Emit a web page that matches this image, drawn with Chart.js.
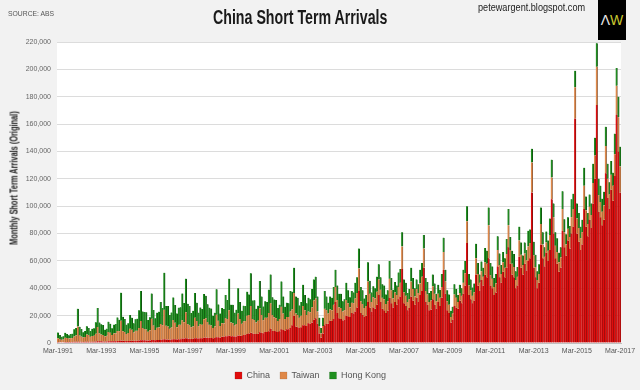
<!DOCTYPE html>
<html>
<head>
<meta charset="utf-8">
<script src="https://cdn.jsdelivr.net/npm/chart.js@4"></script>
<style>
  body { margin: 0; background: #f2f2f2; }
  #wrap { position: relative; width: 640px; height: 390px; font-family: 'Liberation Sans', Arial, sans-serif; }
  .txt { position: absolute; white-space: nowrap; transform-origin: 0 0; }
</style>
</head>
<body>
<div id="wrap">
  <canvas id="grafico" width="640" height="390"></canvas>
  <div class="txt" style="left:8px;top:9px;font-size:8px;color:#555;transform:scaleX(0.85);">SOURCE: ABS</div>
  <div class="txt" style="left:213px;top:6px;font-size:20px;font-weight:bold;color:#1a1a1a;transform:scaleX(0.71);">China Short Term Arrivals</div>
  <div class="txt" style="left:478px;top:1px;font-size:11px;color:#222;transform:scaleX(0.83);">petewargent.blogspot.com</div>
  <div class="txt" style="left:598px;top:0;width:28px;height:40px;background:#000;text-align:center;line-height:40px;font-size:14px;"><span style="color:#e8e8e8">Λ</span><span style="color:#c8c830">W</span></div>
  <div class="txt" style="left:14px;top:178px;transform-origin:50% 50%;transform:translate(-50%,-50%) rotate(-90deg) scaleX(0.74);font-size:10px;font-weight:bold;color:#222;">Monthly Short Term Arrivals (Original)</div>
</div>
<script>
// Eixo: meses de Mar-1991 a Mar-2017, rótulo a cada 24 meses
const tickLabels = ['Mar-1991', 'Mar-1993', 'Mar-1995', 'Mar-1997', 'Mar-1999', 'Mar-2001', 'Mar-2003',
    'Mar-2005', 'Mar-2007', 'Mar-2009', 'Mar-2011', 'Mar-2013', 'Mar-2015', 'Mar-2017'];
const seriesNames = ['China', 'Taiwan', 'Hong Kong'];

// China (uma linha por ano)
const china = [
    700, 600, 600, 600, 700, 700, 700, 800, 800, 900,
    900, 1000, 900, 900, 800, 900, 1000, 1000, 900, 1000, 1000, 1100,
    1200, 1200, 1200, 1100, 1000, 1100, 1300, 1300, 1200, 1300, 1300, 1500,
    1500, 1800, 1600, 1500, 1400, 1500, 1700, 1700, 1600, 1700, 1700, 1900,
    2000, 2000, 2000, 1900, 1800, 1900, 2200, 2200, 2000, 2200, 2200, 2400,
    2500, 2800, 2600, 2500, 2400, 2500, 2800, 2800, 2600, 2800, 2800, 3200,
    3200, 3500, 3200, 3100, 3000, 3100, 3500, 3500, 3200, 3400, 3400, 3800,
    4000, 3800, 3800, 3700, 3500, 3600, 4200, 4200, 4000, 4500, 4500, 5000,
    5000, 5500, 5000, 4900, 4700, 4800, 5500, 5500, 5200, 5800, 6000, 6500,
    7000, 7500, 7000, 6800, 6500, 6800, 7800, 7500, 7200, 8000, 8000, 8500,
    10500, 9000, 8800, 8500, 8000, 8500, 10000, 9500, 9000, 10000, 10000, 11000,
    13000, 20000, 12000, 11500, 11000, 11500, 13000, 13000, 12500, 14500, 14000, 15000,
    17000, 18000, 14000, 7000, 4000, 7000, 13000, 14000, 14000, 16500, 16000, 17500,
    30000, 22000, 18000, 17500, 16500, 17000, 20000, 19500, 19000, 22000, 21500, 23000,
    26000, 38000, 22000, 20500, 19000, 20000, 30000, 26000, 23000, 26000, 25000, 28000,
    35000, 30000, 25000, 24000, 22000, 23500, 33000, 29000, 26000, 30000, 28000, 32000,
    34000, 54000, 29000, 27000, 24000, 25500, 34000, 31000, 28000, 33000, 30000, 35000,
    38000, 55000, 30000, 28000, 24000, 24500, 32000, 28000, 25000, 30000, 27000, 33000,
    53500, 36000, 24000, 22000, 15000, 17000, 27000, 26000, 25000, 31000, 29000, 36000,
    42000, 73000, 35000, 32000, 29000, 31000, 50000, 42000, 38000, 46000, 42000, 50000,
    48000, 62000, 42000, 40000, 35000, 37000, 56000, 48000, 44000, 52000, 48000, 55000,
    70000, 58000, 50000, 48000, 40000, 42000, 63000, 55000, 50000, 58000, 53000, 60000,
    62000, 110000, 55000, 48000, 40000, 44000, 72000, 62000, 56000, 66000, 60000, 68000,
    105000, 80000, 62000, 58000, 52000, 55000, 82000, 70000, 64000, 75000, 69000, 80000,
    85000, 164000, 80000, 74000, 68000, 72000, 98000, 85000, 78000, 90000, 84000, 102000,
    120000, 174000, 96000, 92000, 86000, 90000, 124000, 106000, 98000, 112000, 104000, 122000,
    167000, 140000, 110000
];

// Taiwan
const taiwan = [
    2800, 2300, 1800, 1900, 3200, 3000, 2500, 2700, 2800, 3800,
    4500, 11000, 4500, 3800, 3200, 3500, 5200, 4800, 3600, 4200, 4300, 5600,
    10500, 6000, 5000, 4800, 3800, 4200, 6800, 6200, 4600, 5600, 5800, 7200,
    7000, 14500, 7000, 6500, 5200, 5800, 8800, 8000, 6000, 7200, 7300, 9000,
    14000, 9000, 8200, 8000, 6500, 7500, 15500, 10500, 7500, 9000, 9200, 11500,
    10500, 21500, 10000, 9500, 8000, 8800, 14000, 12000, 9000, 10500, 10500, 13500,
    12000, 19000, 10500, 10000, 8500, 9000, 15000, 12500, 9000, 10500, 10000, 13500,
    14000, 11500, 9500, 9000, 7500, 8500, 16500, 12000, 8500, 10000, 9800, 13000,
    12500, 18500, 10000, 9500, 8000, 9000, 16000, 12000, 8800, 10000, 10000, 13500,
    13500, 19500, 10500, 10000, 8500, 9500, 17500, 13000, 9500, 10500, 10500, 13500,
    18500, 11500, 10000, 9500, 8000, 9000, 16500, 12000, 8500, 9000, 9000, 12000,
    11500, 16500, 9500, 9000, 7500, 8500, 14000, 11000, 8000, 8500, 8500, 11000,
    14000, 14500, 9000, 5000, 3000, 5500, 12000, 10000, 7500, 8000, 8000, 10500,
    11000, 9500, 8000, 8000, 6500, 7000, 11500, 9500, 7000, 7500, 7500, 9500,
    10500, 16500, 8500, 8000, 6500, 7000, 15000, 10000, 7000, 7500, 7500, 9500,
    11500, 9000, 8000, 8000, 6500, 7000, 14000, 9500, 6500, 7000, 7000, 9000,
    10000, 16500, 8000, 7500, 6000, 6500, 11000, 8500, 6000, 6500, 6500, 8500,
    10500, 14000, 8000, 7500, 6000, 6500, 9500, 8000, 5500, 6000, 6000, 8000,
    13000, 9000, 6500, 6000, 4000, 4500, 8500, 7000, 5000, 5500, 5500, 8000,
    9000, 16000, 7000, 6500, 5500, 6000, 12000, 8500, 6000, 6500, 6500, 9000,
    10000, 24000, 7500, 7000, 6000, 6500, 12000, 9000, 6500, 7000, 7000, 10000,
    16000, 10000, 8000, 7500, 6000, 6500, 12000, 9500, 7000, 7500, 7500, 10500,
    11000, 22000, 9000, 7500, 6000, 6500, 15000, 10000, 7000, 7500, 7500, 11000,
    16000, 12000, 9000, 8500, 7000, 7500, 16000, 11000, 8000, 8500, 8500, 12000,
    13000, 23000, 11000, 10000, 8500, 9000, 17000, 12000, 9000, 9500, 9500, 15000,
    17000, 28000, 12000, 11000, 10000, 10500, 20000, 14000, 10500, 11000, 11000, 16000,
    21000, 25000, 19000
];

// Hong Kong
const hongKong = [
    4200, 3000, 2100, 2400, 3600, 2900, 2400, 3000, 3200, 5400,
    5500, 13000, 6500, 5500, 3800, 4300, 6000, 5200, 4200, 5200, 5500, 8500,
    13800, 7800, 7500, 7200, 4800, 5200, 7500, 6500, 5000, 6500, 6800, 10000,
    8500, 20500, 10500, 9500, 6800, 7200, 10000, 8800, 6900, 8500, 8800, 13000,
    22000, 12000, 12500, 12500, 8500, 9500, 18500, 11500, 8500, 11000, 11500, 16000,
    12500, 27000, 14500, 15000, 10000, 11000, 16500, 13000, 10000, 12500, 12800, 19500,
    14000, 24500, 15000, 14000, 10500, 11500, 18000, 13500, 10000, 12000, 11500, 18500,
    16500, 13000, 12500, 12500, 9000, 10000, 18500, 12000, 9000, 11000, 10500, 17000,
    14000, 23000, 13000, 13500, 9500, 10500, 18500, 12500, 9500, 11500, 11000, 17500,
    15000, 24000, 13500, 14500, 10000, 11000, 20000, 13500, 10000, 12000, 11500, 17000,
    21000, 13000, 13000, 13500, 9500, 10500, 18500, 12500, 9000, 10500, 10000, 15000,
    13000, 18500, 12500, 12500, 9000, 10000, 15500, 11000, 8500, 10000, 9500, 13500,
    15500, 16000, 11000, 6500, 4000, 6000, 13000, 10000, 8000, 9500, 9000, 13000,
    12500, 10500, 10000, 10500, 7500, 8000, 12500, 9500, 7500, 8500, 8000, 11500,
    11500, 14500, 10500, 10000, 7000, 8000, 14000, 9500, 7000, 8000, 7500, 11000,
    11000, 9000, 10000, 10000, 7000, 8000, 13000, 9000, 6500, 7500, 7000, 10500,
    10000, 10500, 9500, 9500, 6500, 7500, 10000, 8000, 6000, 7000, 6500, 10000,
    10000, 10000, 9500, 9000, 6500, 7000, 8500, 7500, 5500, 6500, 6000, 9500,
    10500, 8500, 8000, 7500, 4500, 5000, 7500, 6500, 5000, 6000, 5500, 9500,
    9000, 11000, 8500, 8000, 6000, 6500, 10500, 8000, 6000, 7000, 6500, 10500,
    9500, 13000, 9000, 9000, 6500, 7000, 10000, 8500, 6500, 7500, 7000, 11000,
    12000, 9500, 9500, 9500, 6500, 7000, 10000, 9000, 7000, 8000, 7500, 11500,
    10000, 10000, 10000, 9000, 6500, 7000, 12000, 9000, 7000, 8000, 7500, 12000,
    13000, 10000, 10000, 10000, 7000, 7500, 13000, 9500, 7500, 8500, 8000, 13000,
    11000, 12000, 11000, 11000, 8500, 9000, 13000, 10000, 8000, 9000, 8500, 14000,
    13000, 17000, 12000, 12000, 9500, 10000, 14000, 11000, 9000, 10000, 9500, 15000,
    13000, 15000, 14500
];

// Categorias mensais
const nomesMeses = ['Jan', 'Feb', 'Mar', 'Apr', 'May', 'Jun', 'Jul', 'Aug', 'Sep', 'Oct', 'Nov', 'Dec'];
const meses = [];
for (let k = 0; k < china.length; k++) {
    const m = (2 + k) % 12;
    const ano = 1991 + Math.floor((2 + k) / 12);
    meses.push(nomesMeses[m] + '-' + ano);
}

const fonte = "'Liberation Sans', Arial, sans-serif";

// fundo branco só na área do gráfico
const fundoBranco = {
    id: 'fundoBranco',
    beforeDraw(chart) {
        const a = chart.chartArea;
        const ctx = chart.ctx;
        ctx.save();
        ctx.fillStyle = '#ffffff';
        ctx.fillRect(a.left, a.top, a.right - a.left, a.bottom - a.top);
        ctx.restore();
    }
};

// altura fixa da legenda
const alturaLegenda = {
    id: 'alturaLegenda',
    beforeInit(chart) {
        const fit = chart.legend.fit;
        chart.legend.fit = function () {
            fit.bind(chart.legend)();
            this.height = 29;
        };
    }
};

const borda = { top: 0, bottom: 0, left: 0, right: 0.8 };

const ctx = document.getElementById('grafico').getContext('2d');
window.myChart = new Chart(ctx, {
    type: 'bar',
    data: {
        labels: meses,
        datasets: [
            { label: seriesNames[0], data: china, backgroundColor: '#e00c0c', borderColor: '#7a1010', borderWidth: borda },
            { label: seriesNames[1], data: taiwan, backgroundColor: '#df8848', borderColor: '#8a5a3a', borderWidth: borda },
            { label: seriesNames[2], data: hongKong, backgroundColor: '#1f8f1f', borderColor: '#0c4a0c', borderWidth: borda }
        ]
    },
    options: {
        responsive: false,
        animation: false,
        devicePixelRatio: 1,
        layout: { padding: { top: 42, right: 19, bottom: 0, left: 0 } },
        datasets: { bar: { barPercentage: 1, categoryPercentage: 1 } },
        plugins: {
            legend: {
                position: 'bottom',
                labels: { boxWidth: 7, boxHeight: 7, padding: 10, color: '#555', font: { family: fonte, size: 9 } }
            },
            tooltip: { enabled: false }
        },
        scales: {
            x: {
                stacked: true,
                grid: { display: false, drawTicks: false },
                border: { color: '#bfbfbf' },
                afterFit(scale) { scale.height = 18; },
                ticks: {
                    autoSkip: false, maxRotation: 0, minRotation: 0, padding: 4,
                    color: '#555', font: { family: fonte, size: 7 },
                    callback: function (v, i) {
                        return tickLabels.includes(meses[i]) ? meses[i] : '';
                    }
                }
            },
            y: {
                stacked: true,
                min: 0,
                max: 220000,
                afterFit(scale) { scale.width = 57; },
                border: { display: false },
                grid: { color: '#dcdcdc', drawTicks: false },
                ticks: {
                    stepSize: 20000, padding: 6, color: '#666', font: { family: fonte, size: 7 },
                    callback: (v) => v.toLocaleString('en-US')
                }
            }
        }
    },
    plugins: [fundoBranco, alturaLegenda]
});
</script>
</body>
</html>
